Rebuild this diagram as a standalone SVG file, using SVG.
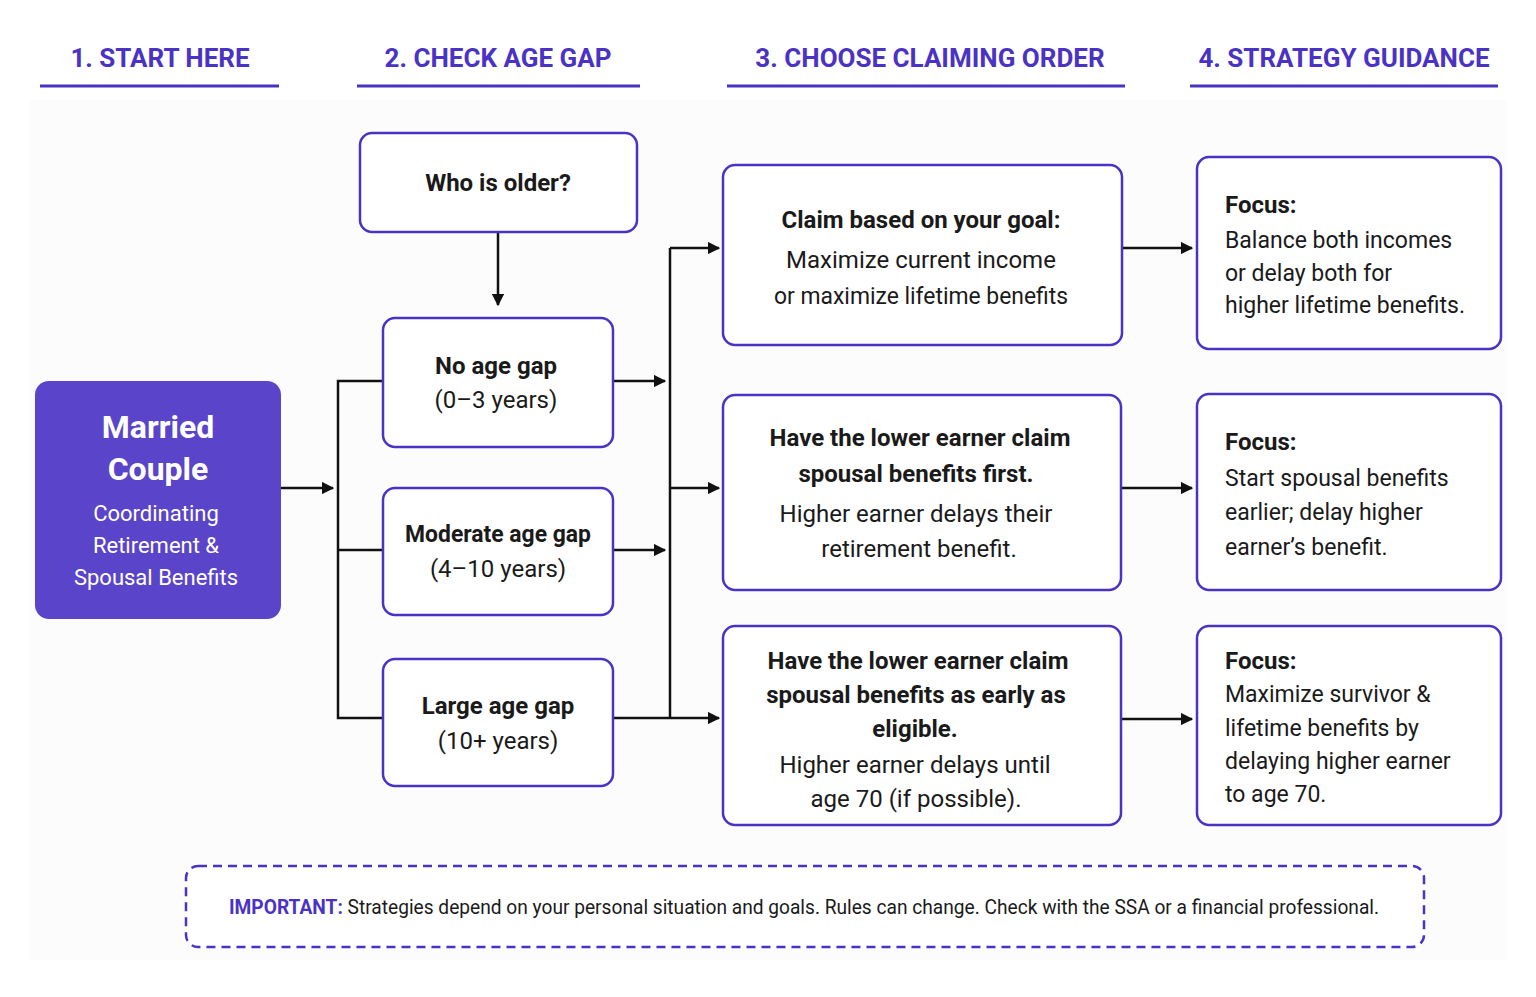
<svg xmlns="http://www.w3.org/2000/svg" width="1536" height="997" viewBox="0 0 1536 997">
<defs>
<marker id="ah" viewBox="0 0 10 10" refX="9" refY="5" markerWidth="5" markerHeight="5" orient="auto"><path d="M0,0L10,5L0,10z" fill="#111"/></marker>
<style>
text{font-family:Roboto,"Liberation Sans",sans-serif;fill:#1a1a1a}
.h{font-size:26px;font-weight:bold;fill:#4a33c4;text-anchor:middle}
.hl{stroke:#4a33c4;stroke-width:3}
.box{fill:#fff;stroke:#4a33c4;stroke-width:2.5}
.b{font-size:24px;font-weight:bold}
.n{font-size:24px}
.f{font-size:23px}
.c{text-anchor:middle}
.w{fill:#fff;text-anchor:middle}
.ln{fill:none;stroke:#111;stroke-width:2.5}
</style>
</defs>
<rect width="1536" height="997" fill="#fff"/>
<rect x="30" y="100" width="1476" height="860" fill="#fcfcfc"/>
<g id="headers">
<text class="h" x="160" y="67">1. START HERE</text><line class="hl" x1="40" y1="86" x2="279" y2="86"/>
<text class="h" x="498" y="67">2. CHECK AGE GAP</text><line class="hl" x1="357" y1="86" x2="640" y2="86"/>
<text class="h" x="930" y="67">3. CHOOSE CLAIMING ORDER</text><line class="hl" x1="727" y1="86" x2="1125" y2="86"/>
<text class="h" x="1344" y="67">4. STRATEGY GUIDANCE</text><line class="hl" x1="1190" y1="86" x2="1498" y2="86"/>
</g>
<g id="connectors">
<path class="ln" d="M498,232V305" marker-end="url(#ah)"/>
<path class="ln" d="M281,488H333" marker-end="url(#ah)"/>
<path class="ln" d="M383,381H338V718H383M338,550H383"/>
<path class="ln" d="M613,381H665" marker-end="url(#ah)"/>
<path class="ln" d="M613,550H665" marker-end="url(#ah)"/>
<path class="ln" d="M613,718H670"/>
<path class="ln" d="M670,718V248"/>
<path class="ln" d="M670,248H719" marker-end="url(#ah)"/>
<path class="ln" d="M670,488H719" marker-end="url(#ah)"/>
<path class="ln" d="M670,718H719" marker-end="url(#ah)"/>
<path class="ln" d="M1122,248H1192" marker-end="url(#ah)"/>
<path class="ln" d="M1122,488H1192" marker-end="url(#ah)"/>
<path class="ln" d="M1122,719H1192" marker-end="url(#ah)"/>
</g>
<g id="married">
<rect x="35" y="381" width="246" height="238" rx="14" fill="#5a44c9"/>
<text class="w" x="158" y="438" font-size="32" font-weight="bold">Married</text>
<text class="w" x="158" y="480" font-size="32" font-weight="bold">Couple</text>
<text class="w" x="156" y="521" font-size="22">Coordinating</text>
<text class="w" x="156" y="553" font-size="22">Retirement &amp;</text>
<text class="w" x="156" y="585" font-size="22">Spousal Benefits</text>
</g>
<g id="who"><rect class="box" x="360" y="133" width="277" height="99" rx="12"/><text class="b c" x="498" y="191">Who is older?</text></g>
<g id="nogap"><rect class="box" x="383" y="318" width="230" height="129" rx="12"/><text class="b c" x="496" y="374">No age gap</text><text class="n c" x="496" y="408">(0–3 years)</text></g>
<g id="moderate"><rect class="box" x="383" y="488" width="230" height="127" rx="12"/><text class="b c" x="498" y="542" textLength="186" lengthAdjust="spacingAndGlyphs">Moderate age gap</text><text class="n c" x="498" y="577">(4–10 years)</text></g>
<g id="large"><rect class="box" x="383" y="659" width="230" height="127" rx="12"/><text class="b c" x="498" y="714">Large age gap</text><text class="n c" x="498" y="749">(10+ years)</text></g>
<g id="claim1"><rect class="box" x="723" y="165" width="399" height="180" rx="12"/>
<text class="b c" x="921" y="228">Claim based on your goal:</text>
<text class="n c" x="921" y="268">Maximize current income</text>
<text class="n c" x="921" y="304" textLength="294" lengthAdjust="spacingAndGlyphs">or maximize lifetime benefits</text></g>
<g id="claim2"><rect class="box" x="723" y="395" width="398" height="195" rx="12"/>
<text class="b c" x="920" y="446">Have the lower earner claim</text>
<text class="b c" x="916" y="482">spousal benefits first.</text>
<text class="n c" x="916" y="522">Higher earner delays their</text>
<text class="n c" x="919" y="557">retirement benefit.</text></g>
<g id="claim3"><rect class="box" x="723" y="626" width="398" height="199" rx="12"/>
<text class="b c" x="918" y="669">Have the lower earner claim</text>
<text class="b c" x="916" y="703">spousal benefits as early as</text>
<text class="b c" x="915" y="737">eligible.</text>
<text class="n c" x="915" y="773">Higher earner delays until</text>
<text class="n c" x="916" y="807">age 70 (if possible).</text></g>
<g id="focus1"><rect class="box" x="1197" y="157" width="304" height="192" rx="12"/>
<text class="b" x="1225" y="213">Focus:</text>
<text class="f" x="1225" y="248">Balance both incomes</text>
<text class="f" x="1225" y="281">or delay both for</text>
<text class="f" x="1225" y="313">higher lifetime benefits.</text></g>
<g id="focus2"><rect class="box" x="1197" y="394" width="304" height="196" rx="12"/>
<text class="b" x="1225" y="450">Focus:</text>
<text class="f" x="1225" y="486">Start spousal benefits</text>
<text class="f" x="1225" y="520">earlier; delay higher</text>
<text class="f" x="1225" y="555">earner’s benefit.</text></g>
<g id="focus3"><rect class="box" x="1197" y="626" width="304" height="199" rx="12"/>
<text class="b" x="1225" y="669">Focus:</text>
<text class="f" x="1225" y="702">Maximize survivor &amp;</text>
<text class="f" x="1225" y="736">lifetime benefits by</text>
<text class="f" x="1225" y="769">delaying higher earner</text>
<text class="f" x="1225" y="802">to age 70.</text></g>
<g id="important"><rect x="186" y="866" width="1238" height="81" rx="12" fill="#fff" stroke="#4a33c4" stroke-width="2.5" stroke-dasharray="9,6"/>
<text x="229" y="914" font-size="20" textLength="1150" lengthAdjust="spacingAndGlyphs"><tspan font-weight="bold" fill="#4a33c4">IMPORTANT:</tspan> Strategies depend on your personal situation and goals. Rules can change. Check with the SSA or a financial professional.</text></g>
</svg>
